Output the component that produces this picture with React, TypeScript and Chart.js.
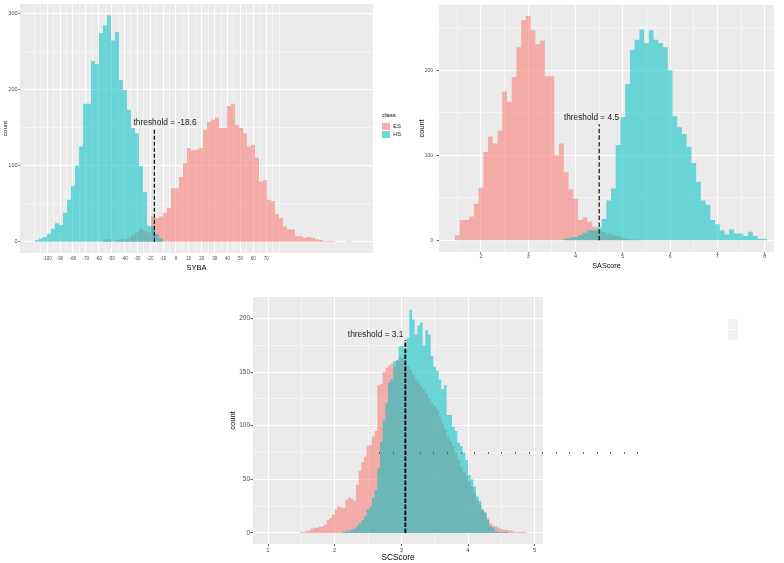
import React, { useEffect, useRef } from 'react';
import { Chart, registerables } from 'chart.js';

Chart.register(...registerables);

const FONT = '"Liberation Sans", Arial, Helvetica, sans-serif';
const ES_FILL = 'rgba(248,118,109,0.55)';
const HS_FILL = 'rgba(0,191,196,0.55)';
const PANEL_BG = '#EBEBEB';
const TICK_TEXT = '#4D4D4D';

const classNames = ['ES', 'HS'];

// ---------- SYBA ----------
const sybaBinStart = -109.5;
const sybaBinWidth = 3.106;
const sybaES = [
  0, 0, 0, 0, 0, 0, 0, 0, 0, 0,
  0, 0, 0, 0, 0, 0, 0, 0, 3, 3,
  0, 2, 3, 3, 5, 8, 12, 16, 14, 12,
  33, 31, 33, 38, 44, 70, 70, 85, 103, 123,
  120, 121, 123, 147, 157, 160, 163, 149, 149, 178,
  181, 153, 149, 142, 125, 127, 110, 79, 81, 55,
  53, 36, 31, 20, 16, 16, 7, 7, 5, 6,
  5, 3, 2, 1, 1, 1, 0, 0, 0, 1, 0,
];
const sybaHS = [
  1, 2, 4, 6, 10, 17, 24, 22, 38, 55,
  73, 100, 125, 181, 181, 237, 233, 274, 284, 297,
  264, 275, 212, 199, 173, 149, 142, 99, 65, 21,
  20, 10, 4, 0, 0, 0, 0, 0, 0, 0,
  0, 0, 0, 0, 0, 0, 0, 0, 0, 0,
  0, 0, 0, 0, 0, 0, 0, 0, 0, 0,
  0, 0, 0, 0, 0, 0, 0, 0, 0, 0,
  0, 0, 0, 0, 0, 0, 0, 0, 0, 0, 0,
];
const sybaGridX = [-110, -105, -100, -95, -90, -85, -80, -75, -70, -65, -60, -55, -50, -45, -40, -35, -30, -25, -20, -15, -10, -5, 0, 5, 10, 15, 20, 25, 30, 35, 40, 45, 50, 55, 60, 65, 70, 75, 80];
const sybaLabelX = [-100, -90, -80, -70, -60, -50, -40, -30, -20, -10, 0, 10, 20, 30, 40, 50, 60, 70];
const sybaGridY = [0, 50, 100, 150, 200, 250, 300];
const sybaLabelY = [0, 100, 200, 300];
const sybaThreshold = -16.8;
const sybaThresholdTop = 147.6;
const sybaThresholdText = 'threshold = -18.6';

// ---------- SAScore ----------
const saBinStart = 1.45;
const saBinWidth = 0.1;
const saES = [
  3, 6, 24, 24, 28, 43, 62, 104, 122, 114,
  129, 175, 163, 192, 227, 259, 264, 247, 231, 235,
  193, 193, 100, 114, 80, 60, 49, 24, 27, 22,
  16, 12, 10, 8, 6, 5, 3, 2, 1, 1,
  0, 0, 0, 0, 0, 0, 0, 0, 0, 0,
  0, 0, 0, 0, 0, 0, 0, 0, 0, 0,
  0, 0, 0, 0, 0, 0,
];
const saHS = [
  0, 0, 0, 0, 0, 0, 0, 0, 0, 0,
  0, 0, 0, 0, 0, 0, 0, 0, 0, 0,
  0, 0, 0, 0, 2, 3, 4, 6, 9, 12,
  12, 15, 25, 47, 61, 112, 145, 184, 224, 236,
  248, 232, 247, 236, 232, 227, 200, 146, 133, 125,
  110, 91, 69, 47, 42, 24, 19, 12, 7, 13,
  8, 8, 5, 10, 5, 2,
];
const saGridX = [1.5, 2, 2.5, 3, 3.5, 4, 4.5, 5, 5.5, 6, 6.5, 7, 7.5, 8];
const saLabelX = [2, 3, 4, 5, 6, 7, 8];
const saGridY = [0, 50, 100, 150, 200, 250];
const saLabelY = [0, 100, 200];
const saThreshold = 4.5;
const saThresholdTop = 136.5;
const saThresholdText = 'threshold = 4.5';

// ---------- SCScore ----------
const scBinStart = 0.96;
const scBinWidth = 0.04;
const scES = [
  1, 0, 0, 0, 0, 0, 0, 0, 0, 0,
  0, 0, 0, 0, 1, 1, 2, 2, 4, 5,
  5, 6, 6, 8, 12, 14, 17, 22, 25, 24,
  23, 31, 33, 32, 30, 45, 58, 66, 71, 81,
  82, 90, 95, 138, 139, 150, 154, 156, 158, 155,
  161, 163, 163, 158, 156, 152, 147, 143, 140, 137,
  134, 130, 125, 121, 118, 115, 108, 102, 96, 90,
  86, 81, 75, 68, 62, 57, 53, 48, 43, 37,
  31, 26, 22, 19, 14, 9, 7, 6, 5, 4,
  3, 3, 2, 2, 1, 1, 1, 1, 1, 0,
];
const scHS = [
  0, 0, 0, 0, 0, 0, 0, 0, 0, 0,
  0, 0, 0, 0, 0, 0, 0, 0, 0, 0,
  0, 0, 0, 0, 0, 0, 0, 0, 0, 0,
  1, 2, 2, 3, 4, 6, 9, 12, 16, 22,
  25, 33, 40, 60, 85, 105, 121, 140, 143, 160,
  161, 174, 174, 171, 182, 208, 199, 185, 193, 196,
  175, 189, 185, 165, 155, 151, 143, 134, 138, 110,
  110, 99, 95, 84, 81, 75, 68, 54, 50, 43,
  34, 30, 22, 19, 12, 6, 5, 2, 1, 1,
  1, 1, 0, 0, 0, 0, 0, 0, 0, 0,
];
const scGridX = [1, 1.5, 2, 2.5, 3, 3.5, 4, 4.5, 5];
const scLabelX = [1, 2, 3, 4, 5];
const scGridY = [0, 25, 50, 75, 100, 125, 150, 175, 200];
const scLabelY = [0, 50, 100, 150, 200];
const scThreshold = 3.06;
const scThresholdTop = 179.5;
const scThresholdText = 'threshold = 3.1';

type Spec = {
  left: number; top: number; width: number; height: number;
  padTop: number; yAxisWidth: number; xAxisHeight: number;
  xMin: number; xMax: number; yMin: number; yMax: number;
  gridX: number[]; labelX: number[]; gridY: number[]; labelY: number[];
  binStart: number; binWidth: number; es: number[]; hs: number[];
  threshold: number; thresholdTop: number; thresholdText: string;
  textX: number; textY: number; annotSize: number;
  lineWidth: number; dash: number[];
  xTitle: string; xTitleSize: number; xTitlePad: number;
  xTickSize: number; xTickLen: number; xTickPad: number;
  yTitleSize: number; yTitlePad: number;
  yTickSize: number; yTickLen: number; yTickPad: number;
};

const sybaSpec: Spec = {
  left: 0, top: 0, width: 373, height: 276,
  padTop: 4, yAxisWidth: 20, xAxisHeight: 23,
  xMin: -121.1, xMax: 152.95, yMin: -14.9, yMax: 311.9,
  gridX: sybaGridX, labelX: sybaLabelX, gridY: sybaGridY, labelY: sybaLabelY,
  binStart: sybaBinStart, binWidth: sybaBinWidth, es: sybaES, hs: sybaHS,
  threshold: sybaThreshold, thresholdTop: sybaThresholdTop, thresholdText: sybaThresholdText,
  textX: -8.5, textY: 155.5, annotSize: 8.4,
  lineWidth: 1.3, dash: [4, 2],
  xTitle: 'SYBA', xTitleSize: 7.5, xTitlePad: 3.5,
  xTickSize: 4.5, xTickLen: 0, xTickPad: 3.3,
  yTitleSize: 6.2, yTitlePad: 1.3,
  yTickSize: 5.5, yTickLen: 1.5, yTickPad: 1,
};

const saSpec: Spec = {
  left: 410, top: 0, width: 364, height: 276,
  padTop: 5, yAxisWidth: 29, xAxisHeight: 24,
  xMin: 1.112, xMax: 8.197, yMin: -13.7, yMax: 276.8,
  gridX: saGridX, labelX: saLabelX, gridY: saGridY, labelY: saLabelY,
  binStart: saBinStart, binWidth: saBinWidth, es: saES, hs: saHS,
  threshold: saThreshold, thresholdTop: saThresholdTop, thresholdText: saThresholdText,
  textX: 4.337, textY: 144.5, annotSize: 8.3,
  lineWidth: 1.2, dash: [4.5, 2.2],
  xTitle: 'SAScore', xTitleSize: 7.2, xTitlePad: 5.7,
  xTickSize: 5.5, xTickLen: 1.5, xTickPad: 0,
  yTitleSize: 7.4, yTitlePad: 8,
  yTickSize: 5, yTickLen: 2.5, yTickPad: 3.5,
};

const scSpec: Spec = {
  left: 220, top: 290, width: 323, height: 273,
  padTop: 7, yAxisWidth: 33, xAxisHeight: 19,
  xMin: 0.775, xMax: 5.125, yMin: -10.25, yMax: 219.9,
  gridX: scGridX, labelX: scLabelX, gridY: scGridY, labelY: scLabelY,
  binStart: scBinStart, binWidth: scBinWidth, es: scES, hs: scHS,
  threshold: scThreshold, thresholdTop: scThresholdTop, thresholdText: scThresholdText,
  textX: 2.615, textY: 184.4, annotSize: 8.4,
  lineWidth: 1.9, dash: [4.5, 1.5],
  xTitle: 'SCScore', xTitleSize: 8.3, xTitlePad: 0,
  xTickSize: 6, xTickLen: 2, xTickPad: 1,
  yTitleSize: 7.5, yTitlePad: 8,
  yTickSize: 6.5, yTickLen: 2.5, yTickPad: 0.5,
};

function has(list: number[], v: any): boolean {
  if (typeof v !== 'number') return false;
  return list.some((u) => Math.abs(u - v) < 1e-9);
}

function stepPoints(start: number, width: number, counts: number[]) {
  const pts = counts.map((c, i) => ({ x: start + i * width, y: c }));
  pts.push({ x: start + counts.length * width, y: counts[counts.length - 1] });
  return pts;
}

function HistPanel({ s }: { s: Spec }) {
  const ref = useRef<HTMLCanvasElement | null>(null);
  useEffect(() => {
    const canvas = ref.current;
    if (!canvas) return;
    const bgPlugin = {
      id: 'panelBg',
      beforeDraw(chart: any) {
        const { ctx, chartArea: a } = chart;
        ctx.save();
        ctx.fillStyle = PANEL_BG;
        ctx.fillRect(a.left, a.top, a.right - a.left, a.bottom - a.top);
        ctx.restore();
      },
    };
    const textPlugin = {
      id: 'thresholdText',
      afterDatasetsDraw(chart: any) {
        const { ctx } = chart;
        const px = chart.scales.x.getPixelForValue(s.textX);
        const py = chart.scales.y.getPixelForValue(s.textY);
        ctx.save();
        ctx.font = `${s.annotSize}px ${FONT}`;
        ctx.fillStyle = '#1A1A1A';
        ctx.textAlign = 'center';
        ctx.textBaseline = 'middle';
        ctx.fillText(s.thresholdText, px, py);
        ctx.restore();
      },
    };
    const chart = new Chart(canvas, {
      type: 'line',
      data: {
        datasets: [
          {
            label: 'threshold',
            data: [{ x: s.threshold, y: 0 }, { x: s.threshold, y: s.thresholdTop }],
            borderColor: '#111111',
            borderWidth: s.lineWidth,
            borderDash: s.dash,
            pointRadius: 0,
            fill: false,
            order: 0,
          },
          {
            label: classNames[1],
            data: stepPoints(s.binStart, s.binWidth, s.hs),
            stepped: 'after',
            fill: 'origin',
            backgroundColor: HS_FILL,
            borderColor: 'rgba(0,0,0,0)',
            borderWidth: 0,
            pointRadius: 0,
            order: 1,
          },
          {
            label: classNames[0],
            data: stepPoints(s.binStart, s.binWidth, s.es),
            stepped: 'after',
            fill: 'origin',
            backgroundColor: ES_FILL,
            borderColor: 'rgba(0,0,0,0)',
            borderWidth: 0,
            pointRadius: 0,
            order: 2,
          },
        ] as any,
      },
      options: {
        responsive: false,
        maintainAspectRatio: false,
        animation: false,
        devicePixelRatio: 1,
        events: [],
        layout: { padding: { top: s.padTop, left: 0, right: 0, bottom: 0 } },
        plugins: { legend: { display: false }, tooltip: { enabled: false } },
        scales: {
          x: {
            type: 'linear',
            min: s.xMin,
            max: s.xMax,
            bounds: 'data',
            afterBuildTicks: (sc: any) => { sc.ticks = s.gridX.map((v) => ({ value: v })); },
            afterFit: (sc: any) => { sc.height = s.xAxisHeight; sc.paddingLeft = 0; sc.paddingRight = 0; },
            grid: {
              color: '#FFFFFF',
              lineWidth: (c: any) => (has(s.labelX, c.tick && c.tick.value) ? 1 : 0.5),
              drawTicks: s.xTickLen > 0,
              tickLength: s.xTickLen,
              tickWidth: 0.8,
              tickColor: (c: any) => (has(s.labelX, c.tick && c.tick.value) ? '#333333' : 'rgba(0,0,0,0)'),
            },
            border: { display: false },
            ticks: {
              autoSkip: false,
              maxRotation: 0,
              minRotation: 0,
              padding: s.xTickPad,
              color: TICK_TEXT,
              font: { family: FONT, size: s.xTickSize },
              callback: (v: any) => (has(s.labelX, v) ? String(v) : ''),
            },
            title: {
              display: true,
              text: s.xTitle,
              color: '#000000',
              font: { family: FONT, size: s.xTitleSize },
              padding: { top: 0, bottom: s.xTitlePad },
            },
          },
          y: {
            type: 'linear',
            min: s.yMin,
            max: s.yMax,
            bounds: 'data',
            afterBuildTicks: (sc: any) => { sc.ticks = s.gridY.map((v) => ({ value: v })); },
            afterFit: (sc: any) => { sc.width = s.yAxisWidth; sc.paddingTop = 0; sc.paddingBottom = 0; },
            grid: {
              color: '#FFFFFF',
              lineWidth: (c: any) => (has(s.labelY, c.tick && c.tick.value) ? 1 : 0.5),
              drawTicks: true,
              tickLength: s.yTickLen,
              tickWidth: 0.8,
              tickColor: (c: any) => (has(s.labelY, c.tick && c.tick.value) ? '#333333' : 'rgba(0,0,0,0)'),
            },
            border: { display: false },
            ticks: {
              autoSkip: false,
              padding: s.yTickPad,
              color: TICK_TEXT,
              font: { family: FONT, size: s.yTickSize },
              callback: (v: any) => (has(s.labelY, v) ? String(v) : ''),
            },
            title: {
              display: true,
              text: 'count',
              color: '#000000',
              font: { family: FONT, size: s.yTitleSize },
              padding: { top: s.yTitlePad, bottom: 0 },
            },
          },
        },
      } as any,
      plugins: [bgPlugin, textPlugin],
    });
    return () => chart.destroy();
  }, [s]);
  return (
    <canvas
      ref={ref}
      width={s.width}
      height={s.height}
      style={{ position: 'absolute', left: s.left, top: s.top, width: s.width, height: s.height, display: 'block' }}
    />
  );
}

export default function App() {
  return (
    <div
      style={{
        position: 'absolute', left: 0, top: 0, width: 784, height: 563,
        background: '#FFFFFF', overflow: 'hidden', fontFamily: FONT,
      }}
    >
      <HistPanel s={sybaSpec} />
      <HistPanel s={saSpec} />
      <HistPanel s={scSpec} />

      {/* legend */}
      <div style={{ position: 'absolute', left: 382, top: 112, fontSize: 6, lineHeight: '7px', color: '#000' }}>class</div>
      <div style={{ position: 'absolute', left: 382, top: 123, width: 8, height: 7, background: 'rgb(245,174,169)' }} />
      <div style={{ position: 'absolute', left: 382, top: 131, width: 8, height: 7, background: 'rgb(109,214,217)' }} />
      <div style={{ position: 'absolute', left: 393, top: 123, fontSize: 6, lineHeight: '7px', color: '#333' }}>{classNames[0]}</div>
      <div style={{ position: 'absolute', left: 393, top: 131, fontSize: 6, lineHeight: '7px', color: '#333' }}>{classNames[1]}</div>

      {/* stray marks present in the reference image */}
      <div style={{ position: 'absolute', left: 728, top: 319, width: 10, height: 10, background: '#F2F2F2' }} />
      <div style={{ position: 'absolute', left: 728, top: 330, width: 10, height: 10, background: '#F2F2F2' }} />
      <div
        style={{
          position: 'absolute', left: 379, top: 452, width: 263, height: 2,
          background: 'repeating-linear-gradient(to right, rgba(70,70,70,0.8) 0px, rgba(70,70,70,0.8) 1px, rgba(0,0,0,0) 1px, rgba(0,0,0,0) 13.6px)',
        }}
      />
    </div>
  );
}
